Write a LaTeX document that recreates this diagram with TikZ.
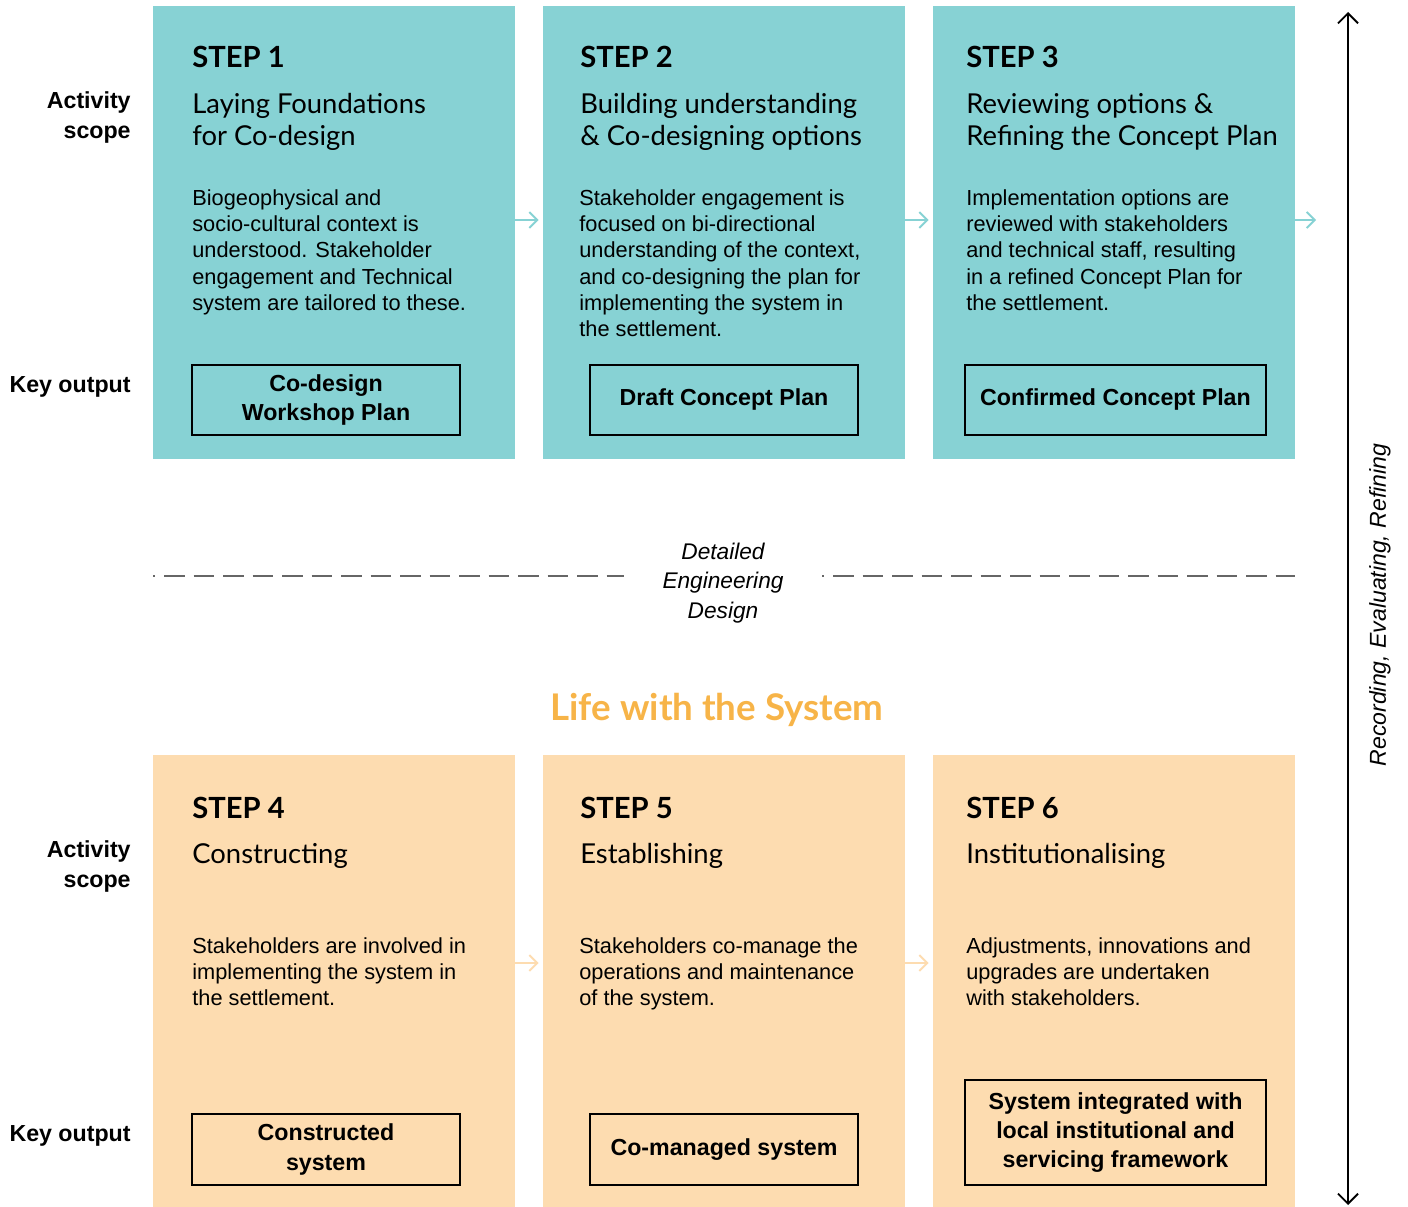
\documentclass[tikz,border=0pt]{standalone}
\usepackage{fontspec}
\setmainfont{Liberation Sans}
\newfontfamily\headfont{Lato}
\usepackage{xcolor}
\usepackage{tikz}
\usetikzlibrary{arrows.meta}

\definecolor{tealbox}{HTML}{87D2D4}
\definecolor{orangebox}{HTML}{FDDCB0}
\definecolor{lifeorange}{HTML}{F7B448}
\definecolor{dashgrey}{HTML}{666666}

\newcommand{\stepfont}{\headfont\bfseries\fontsize{16.6pt}{19pt}\selectfont}
\newcommand{\subfont}{\headfont\fontsize{15.6pt}{18.1pt}\selectfont}
\newcommand{\bodyfont}{\fontsize{12.4pt}{15pt}\selectfont}
\newcommand{\keyfont}{\bfseries\fontsize{13.2pt}{16.6pt}\selectfont}

\tikzset{
  stepbox/.style={rectangle, minimum width=7.24cm, minimum height=9.06cm, inner sep=0pt},
  steplabel/.style={anchor=base west, inner sep=0pt, font=\stepfont},
  subtitle/.style={anchor=north west, inner sep=0pt, align=left, font=\subfont},
  bodytext/.style={anchor=north west, inner sep=0pt, align=left, font=\bodyfont},
  outbox/.style={draw, line width=1.3pt, rectangle, minimum height=1.4cm, inner sep=0pt, align=center, font=\keyfont},
  sidelabel/.style={inner sep=0pt, align=right, font=\bfseries\fontsize{13.2pt}{17.2pt}\selectfont},
  smallarrow/.style={-{Straight Barb[length=1.6mm, width=3.2mm]}, line width=1.1pt, shorten >=0.08cm},
  engdash/.style={dashgrey, line width=0.75pt, dash pattern=on 0.41cm off 0.18cm, dash phase=0.37cm}
}

\begin{document}
\begin{tikzpicture}
        \useasboundingbox (0,0) rectangle (28.16,-24.14);

        % Top row of steps
        \node[stepbox, fill=tealbox] (s1) at (6.68,-4.65) {};
        \node[stepbox, fill=tealbox] (s2) at (14.48,-4.65) {};
        \node[stepbox, fill=tealbox] (s3) at (22.28,-4.65) {};

        \node[steplabel] (t1) at (3.84,-1.36) {STEP 1};
        \node[steplabel] (t2) at (11.6,-1.36) {STEP 2};
        \node[steplabel] (t3) at (19.32,-1.36) {STEP 3};

        \node[subtitle] (n1) at (3.84,-1.86) {Laying Foundations\\for Co-design};
        \node[subtitle] (n2) at (11.6,-1.86) {Building understanding\\\& Co-designing options};
        \node[subtitle] (n3) at (19.32,-1.86) {Reviewing options \&\\Refining the Concept Plan};

        \node[bodytext] (b1) at (3.84,-3.78) {Biogeophysical and\\socio-cultural context is\\understood. Stakeholder\\engagement and Technical\\system are tailored to these.};
        \node[bodytext] (b2) at (11.58,-3.78) {Stakeholder engagement is\\focused on bi-directional\\understanding of the context,\\and co-designing the plan for\\implementing the system in\\the settlement.};
        \node[bodytext] (b3) at (19.32,-3.78) {Implementation options are\\reviewed with stakeholders\\and technical staff, resulting\\in a refined Concept Plan for\\the settlement.};

        \node[outbox, minimum width=5.36cm] (o1) at (6.52,-8.0) {Co-design\\Workshop Plan};
        \node[outbox, minimum width=5.36cm] (o2) at (14.48,-8.0) {Draft Concept Plan};
        \node[outbox, minimum width=6.02cm] (o3) at (22.31,-8.0) {Confirmed Concept Plan};

        % Arrows between the top steps
        \coordinate (after3) at (26.32,-4.4);
        \draw[smallarrow, tealbox] ([yshift=0.25cm]s1.east) -- ([yshift=0.25cm]s2.west);
        \draw[smallarrow, tealbox] ([yshift=0.25cm]s2.east) -- ([yshift=0.25cm]s3.west);
        \draw[smallarrow, tealbox, shorten >=0pt] ([yshift=0.25cm]s3.east) -- (after3);

        % Side labels
        \node[sidelabel, anchor=north east] (as1) at (2.62,-1.82) {Activity\\scope};
        \node[sidelabel, anchor=mid east] (ko1) at (2.62,-7.76) {Key output};
        \node[sidelabel, anchor=north east] (as2) at (2.62,-16.8) {Activity\\scope};
        \node[sidelabel, anchor=mid east] (ko2) at (2.62,-22.74) {Key output};

        % Engineering divide
        \node[align=center, inner sep=0pt, font=\itshape\fontsize{12.9pt}{16.7pt}\selectfont] (ede) at (14.46,-11.66) {Detailed\\Engineering\\Design};
        \coordinate (dl1) at (3.06,-11.52);
        \coordinate (dl2) at (12.48,-11.52);
        \coordinate (dr1) at (16.44,-11.52);
        \coordinate (dr2) at (25.9,-11.52);
        \draw[engdash] (dl1) -- (dl2);
        \draw[engdash] (dr1) -- (dr2);

        \node[inner sep=0pt, font=\headfont\bfseries\fontsize{20.9pt}{24pt}\selectfont, text=lifeorange] (life) at (14.34,-14.2) {Life with the System};

        % Bottom row of steps
        \node[stepbox, fill=orangebox, minimum height=9.04cm] (s4) at (6.68,-19.62) {};
        \node[stepbox, fill=orangebox, minimum height=9.04cm] (s5) at (14.48,-19.62) {};
        \node[stepbox, fill=orangebox, minimum height=9.04cm] (s6) at (22.28,-19.62) {};

        \node[steplabel] (t4) at (3.84,-16.36) {STEP 4};
        \node[steplabel] (t5) at (11.6,-16.36) {STEP 5};
        \node[steplabel] (t6) at (19.32,-16.36) {STEP 6};

        \node[subtitle] (n4) at (3.84,-16.86) {Constructing};
        \node[subtitle] (n5) at (11.6,-16.86) {Establishing};
        \node[subtitle] (n6) at (19.32,-16.86) {Institutionalising};

        \node[bodytext] (b4) at (3.84,-18.74) {Stakeholders are involved in\\implementing the system in\\the settlement.};
        \node[bodytext] (b5) at (11.58,-18.74) {Stakeholders co-manage the\\operations and maintenance\\of the system.};
        \node[bodytext] (b6) at (19.32,-18.74) {Adjustments, innovations and\\upgrades are undertaken\\with stakeholders.};

        \node[outbox, minimum width=5.36cm, minimum height=1.42cm] (o4) at (6.52,-22.99) {Constructed\\system};
        \node[outbox, minimum width=5.36cm, minimum height=1.42cm] (o5) at (14.48,-22.99) {Co-managed system};
        \node[outbox, minimum width=6.02cm, minimum height=2.1cm] (o6) at (22.31,-22.65) {System integrated with\\local institutional and\\servicing framework};

        % Arrows between the bottom steps
        \draw[smallarrow, orangebox] ([yshift=0.36cm]s4.east) -- ([yshift=0.36cm]s5.west);
        \draw[smallarrow, orangebox] ([yshift=0.36cm]s5.east) -- ([yshift=0.36cm]s6.west);

        % Recording loop on the right
        \coordinate (loopTop) at (26.96,-0.24);
        \coordinate (loopBot) at (26.96,-24.1);
        \draw[{Straight Barb[length=2mm, width=4mm]}-{Straight Barb[length=2mm, width=4mm]}, line width=1.1pt] (loopTop) -- (loopBot);
        \node[rotate=90, inner sep=0pt, font=\itshape\fontsize{13.1pt}{15pt}\selectfont] (rec) at (27.6,-12.1) {Recording, Evaluating, Refining};
\end{tikzpicture}
\end{document}
